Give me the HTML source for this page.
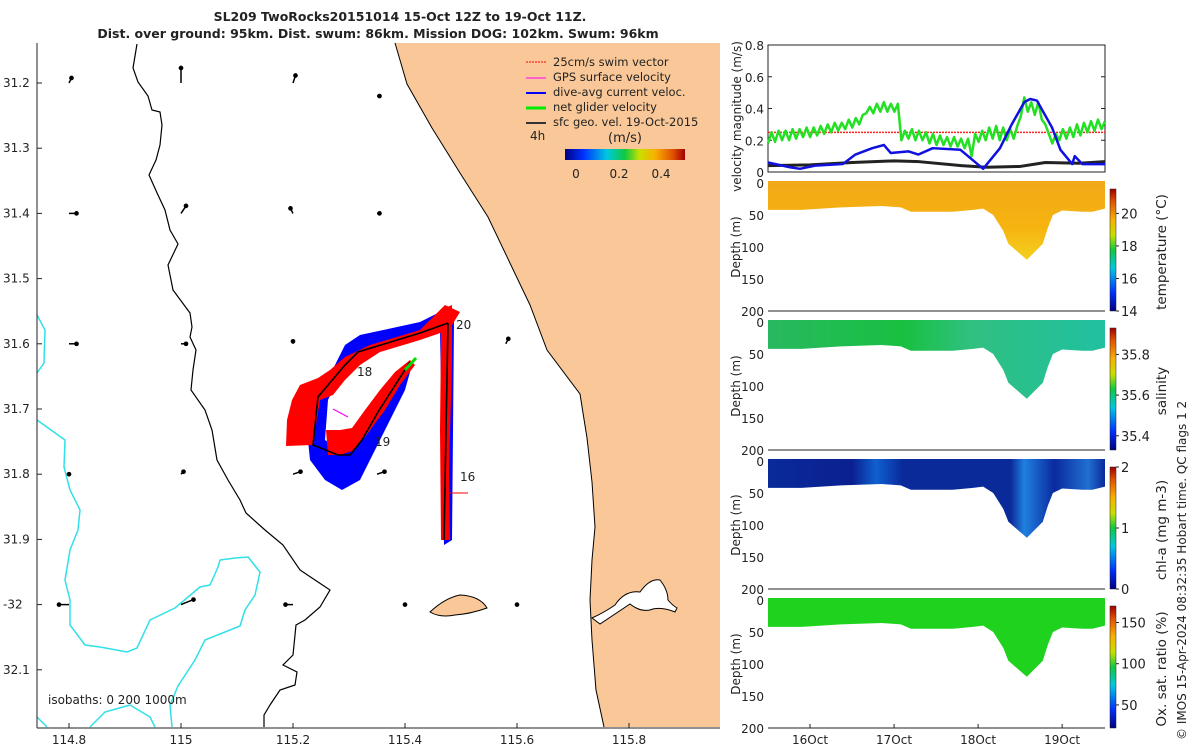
<!DOCTYPE html>
<html><head><meta charset="utf-8"><style>
body{margin:0;background:#fff;font-family:"Liberation Sans","DejaVu Sans",sans-serif}
svg text{font-family:"DejaVu Sans","Liberation Sans",sans-serif;fill:#222}
</style></head><body>
<svg id="fig" width="1200" height="750" viewBox="0 0 1200 750" xmlns="http://www.w3.org/2000/svg">
<defs>
<linearGradient id="jet" x1="0" y1="1" x2="0" y2="0">
<stop offset="0" stop-color="#000080"/><stop offset="0.15" stop-color="#0030ff"/><stop offset="0.35" stop-color="#00c8e0"/><stop offset="0.5" stop-color="#10c840"/><stop offset="0.62" stop-color="#c8e000"/><stop offset="0.75" stop-color="#f8b000"/><stop offset="0.9" stop-color="#e05000"/><stop offset="1" stop-color="#a00000"/>
</linearGradient>
<linearGradient id="jeth" x1="0" y1="0" x2="1" y2="0">
<stop offset="0" stop-color="#000080"/><stop offset="0.15" stop-color="#0030ff"/><stop offset="0.35" stop-color="#00c8e0"/><stop offset="0.5" stop-color="#10c840"/><stop offset="0.62" stop-color="#c8e000"/><stop offset="0.75" stop-color="#f8b000"/><stop offset="0.9" stop-color="#e05000"/><stop offset="1" stop-color="#a00000"/>
</linearGradient>
<linearGradient id="tempg" x1="0" y1="0" x2="0" y2="1"><stop offset="0" stop-color="#f2a818"/><stop offset="0.6" stop-color="#f6b410"/><stop offset="1" stop-color="#f4d020"/></linearGradient>
<linearGradient id="salg" x1="0" y1="0" x2="1" y2="0"><stop offset="0" stop-color="#28b860"/><stop offset="0.4" stop-color="#18c040"/><stop offset="0.6" stop-color="#30c080"/><stop offset="1" stop-color="#20c0a0"/></linearGradient>
<linearGradient id="chlg" x1="0" y1="0" x2="1" y2="0"><stop offset="0" stop-color="#0a2a9a"/><stop offset="0.25" stop-color="#0a2090"/><stop offset="0.32" stop-color="#1060d0"/><stop offset="0.4" stop-color="#0a2a9a"/><stop offset="0.72" stop-color="#0a2a9a"/><stop offset="0.76" stop-color="#2080e0"/><stop offset="0.85" stop-color="#0a2aa0"/><stop offset="0.95" stop-color="#2070d0"/><stop offset="1" stop-color="#0a2a9a"/></linearGradient>
</defs>

<text x="400" y="21" font-size="12.5" font-weight="bold" text-anchor="middle">SL209 TwoRocks20151014 15-Oct 12Z to 19-Oct 11Z.</text>
<text x="378" y="38" font-size="12.5" font-weight="bold" text-anchor="middle">Dist. over ground: 95km. Dist. swum: 86km. Mission DOG: 102km. Swum: 96km</text>

<g id="map">
<polygon fill="#fac898" points="395,43 407,84 432,128 460,173 488,217 530,305 547,350 580,394 587,438 592,482 595,527 592,560 590,600 592,640 596,690 604,727 720,727 720,43"/>
<polyline fill="none" stroke="#000" stroke-width="1" points="395,43 407,84 432,128 460,173 488,217 530,305 547,350 580,394 587,438 592,482 595,527 592,560 590,600 592,640 596,690 604,727"/>
<path d="M592 618 Q605 612 615 605 Q625 590 640 592 Q650 578 660 580 Q668 590 668 600 Q672 605 677 608 L675 612 Q660 606 650 610 Q640 612 630 604 Q618 612 600 624 Z" fill="#fff" stroke="#000" stroke-width="1"/>
<path d="M430 612 Q445 598 460 595 Q480 596 487 608 Q470 614 455 615 Q440 618 430 612Z" fill="#fac898" stroke="#000" stroke-width="1"/>
<polyline fill="none" stroke="#000" stroke-width="1.2" points="137,44 133,68 138,82 148,96 152,110 160,112 162,125 160,145 156,160 149,175 158,195 165,210 170,230 178,244 168,265 173,290 190,313 192,327 190,337 196,350 193,370 191,390 205,410 212,430 217,460 228,480 240,500 246,513 265,530 283,545 300,570 312,578 330,590 320,607 305,620 296,625 293,655 283,665 297,672 295,685 280,690 270,705 264,715 264,727"/>
<g fill="none" stroke="#30e0e8" stroke-width="1.5">
<polyline points="37,315 45,330 44,363 37,373"/>
<polyline points="37,420 65,440 64,467 70,490 80,510 78,530 70,550 65,580 70,600 70,625 85,645 100,647 127,652 137,648 150,620 175,608 200,587 210,585 218,567 220,560 235,558 248,557 260,572 255,595 245,610 240,626 205,640 195,660 178,686 170,705 172,727"/>
<polyline points="37,717 47,727"/><polyline points="90,727 105,712 130,705 150,717 155,727"/>
</g>
<g id="quiver" stroke="#000" stroke-width="1.5" fill="#000"></g>
<polygon fill="#0000ff" points="345,345 360,335 420,322 448,308 454,320 452,540 444,545 440,330 420,335 360,352 340,375 328,400 325,440 340,450 355,450 370,430 390,400 412,365 405,390 390,420 375,450 360,480 342,490 325,480 310,460 308,440 313,400 330,375"/>
<polygon fill="#ff0000" points="445,305 460,312 449,330 420,340 380,352 360,365 345,380 333,395 320,400 316,425 313,445 286,446 287,420 292,400 300,385 318,378 330,370 345,357 370,345 420,330"/>
<polygon fill="#ff0000" points="326,430 340,430 352,428 365,410 380,390 395,372 410,360 415,365 400,385 385,410 370,430 355,450 340,455 328,455"/>
<polygon fill="#ff0000" points="440,310 452,305 452,360 449,470 450,540 441,540 440,430 441,340"/>
<polyline fill="none" stroke="#000" stroke-width="1.6" points="448,323 420,333 358,352 345,365 318,397 313,445 338,455 350,455 362,440 378,412 410,362"/>
<polyline fill="none" stroke="#000" stroke-width="1.6" points="448,323 446,430 444,540"/>
<line x1="405" y1="370" x2="416" y2="358" stroke="#00e000" stroke-width="3"/>
<line x1="333" y1="409" x2="348" y2="417" stroke="#ff00ff" stroke-width="1.2"/>
<line x1="448" y1="493" x2="468" y2="493" stroke="#ff0000" stroke-width="1"/>
<text x="456" y="329" font-size="12">20</text>
<text x="357" y="376" font-size="12">18</text>
<text x="375" y="446" font-size="12">19</text>
<text x="460" y="481" font-size="12">16</text>
<g font-size="11.5">
<line x1="526" y1="62" x2="546" y2="62" stroke="#f00" stroke-dasharray="2 1"/><text x="553" y="66">25cm/s swim vector</text>
<line x1="526" y1="78" x2="546" y2="78" stroke="#f0f"/><text x="553" y="81">GPS surface velocity</text>
<line x1="526" y1="93" x2="546" y2="93" stroke="#00f" stroke-width="2"/><text x="553" y="96">dive-avg current veloc.</text>
<line x1="526" y1="108" x2="546" y2="108" stroke="#0e0" stroke-width="3"/><text x="553" y="111">net glider velocity</text>
<line x1="526" y1="123" x2="546" y2="123" stroke="#333" stroke-width="2"/><text x="553" y="126">sfc geo. vel. 19-Oct-2015</text>
<text x="530" y="140" font-size="12">4h</text>
<text x="625" y="142" font-size="13" text-anchor="middle">(m/s)</text>
<rect x="565" y="149" width="120" height="11" fill="url(#jeth)"/>
<text x="576" y="178" font-size="12" text-anchor="middle">0</text><text x="619" y="178" font-size="12" text-anchor="middle">0.2</text><text x="661" y="178" font-size="12" text-anchor="middle">0.4</text>
</g>
<text x="48" y="704" font-size="12">isobaths: 0   200  1000m</text>
<line x1="37" y1="43" x2="37" y2="728" stroke="#222"/>
<line x1="37" y1="728" x2="720" y2="728" stroke="#222"/>
<g id="mapticks" font-size="12"></g>
</g>

<g id="right"></g>
<text transform="translate(1186,740) rotate(-90)" font-size="12">© IMOS 15-Apr-2024 08:32:35 Hobart time. QC flags 1  2</text>
</svg>
<script>
const NS='http://www.w3.org/2000/svg';
const lonTicks=[114.8,115,115.2,115.4,115.6,115.8];
const latTicks=[31.2,31.3,31.4,31.5,31.6,31.7,31.8,31.9,32,32.1];
const latLabels=['31.2','31.3','31.4','31.5','31.6','31.7','31.8','31.9','-32','32.1'];
const qLon=[114.8,115,115.2,115.35,114.8,115,115.2,115.35,114.8,115,115.2,115.58,114.8,115,115.2,115.35,114.8,115,115.2,115.4,115.6];
const qLat=[31.2,31.2,31.2,31.22,31.4,31.4,31.4,31.4,31.6,31.6,31.6,31.6,31.8,31.8,31.8,31.8,32,32,32,32,32];
const qU=[0.01,0,0.01,0.01,0.03,0.02,-0.01,0.01,0.03,0.02,0,0.01,0,0.01,0.03,0.03,-0.04,0.05,-0.03,0,0];
const qV=[0.02,0.06,0.03,0,0,0.03,0.02,0,0,0,0.01,0.02,0,0.01,0.01,0.01,0,0.02,0,0,0];
function lonX(l){return 181+(l-115)*560}
function latY(l){return 83+(l-31.2)*652}
function mk(tag,attrs,parent){const e=document.createElementNS(NS,tag);for(const k in attrs)e.setAttribute(k,attrs[k]);parent.appendChild(e);return e}
const mt=document.getElementById('mapticks');
lonTicks.forEach((l,i)=>{const x=lonX(l);mk('line',{x1:x,y1:728,x2:x,y2:723,stroke:'#222'},mt);const t=mk('text',{x:x,y:744,'text-anchor':'middle'},mt);t.textContent=String(l);

});
latTicks.forEach((l,i)=>{const y=latY(l);mk('line',{x1:37,y1:y,x2:42,y2:y,stroke:'#222'},mt);const t=mk('text',{x:3,y:y+4},mt);t.textContent=latLabels[i];

});
const qg=document.getElementById('quiver');
qLon.forEach((l,i)=>{const x=lonX(l),y=latY(qLat[i]);const x2=x+qU[i]*250,y2=y-qV[i]*250;
const ln=mk('line',{x1:x,y1:y,x2:x2,y2:y2},qg);


mk('circle',{cx:x2,cy:y2,r:1.6},qg);});

const days=[16,17,18,19];
const dayLabels=['16Oct','17Oct','18Oct','19Oct'];
const tStart=15.5,tEnd=19.51;
const velTicks=[0,0.2,0.4,0.6,0.8];
const velLabels=['0','0.2','0.4','0.6','0.8'];
const greenVel=[0.18,0.25,0.19,0.26,0.2,0.26,0.2,0.27,0.21,0.27,0.22,0.28,0.22,0.28,0.23,0.29,0.24,0.3,0.25,0.31,0.26,0.31,0.27,0.33,0.28,0.34,0.3,0.36,0.37,0.41,0.37,0.43,0.38,0.44,0.38,0.43,0.38,0.43,0.2,0.26,0.21,0.27,0.2,0.26,0.2,0.25,0.18,0.24,0.17,0.23,0.17,0.22,0.16,0.22,0.16,0.21,0.15,0.21,0.1,0.24,0.19,0.26,0.2,0.28,0.21,0.29,0.2,0.28,0.2,0.27,0.21,0.29,0.35,0.47,0.38,0.44,0.36,0.44,0.33,0.3,0.24,0.18,0.24,0.2,0.27,0.21,0.28,0.22,0.3,0.23,0.31,0.25,0.32,0.26,0.33,0.27,0.32];
const blueT=[15.5,15.76,15.88,16.06,16.39,16.54,16.74,16.88,16.96,17.17,17.29,17.46,17.79,18.06,18.26,18.4,18.55,18.62,18.7,18.88,18.98,19.12,19.15,19.24,19.51];
const blueV=[0.06,0.03,0.02,0.04,0.05,0.11,0.15,0.17,0.12,0.13,0.11,0.15,0.14,0.02,0.15,0.3,0.44,0.46,0.45,0.28,0.14,0.05,0.1,0.05,0.05];
const blackT=[15.5,16.0,16.5,17.0,17.3,17.8,18.1,18.5,18.8,19.2,19.51];
const blackV=[0.04,0.045,0.06,0.07,0.065,0.04,0.03,0.035,0.06,0.055,0.065];
const swimRef=[0.25];
const secT=[15.5,15.9,16.37,16.85,17.08,17.2,17.7,17.94,18.06,18.18,18.3,18.36,18.58,18.77,18.83,18.89,19.0,19.24,19.36,19.51];
const secD=[42,42,38,36,38,45,45,42,40,50,75,95,120,95,70,50,43,45,45,40];
const panels=[
 {y0:183,fill:'url(#tempg)',cbTicks:[14,16,18,20],cbMin:14,cbMax:21.5,label:'temperature (°C)',name:'temperature'},
 {y0:322,fill:'url(#salg)',cbTicks:[35.4,35.6,35.8],cbMin:35.33,cbMax:35.93,label:'salinity',name:'salinity'},
 {y0:461,fill:'url(#chlg)',cbTicks:[0,1,2],cbMin:0,cbMax:2,label:'chl-a (mg m-3)',name:'chlorophyll'},
 {y0:600,fill:'#1ed21e',cbTicks:[50,100,150],cbMin:22,cbMax:170,label:'Ox. sat. ratio (%)',name:'oxygen'}];
const depthTicks=[0,50,100,150,200];
const R=document.getElementById('right');
const X0=768,X1=1105;
function tx(t){return X0+(t-tStart)/(tEnd-tStart)*(X1-X0)}
const vy0=172,vy1=45;
function vy(v){return vy0-(v/0.8)*(vy0-vy1)}
const vg=mk('g',{},R);
mk('rect',{x:X0,y:vy1,width:X1-X0,height:vy0-vy1,fill:'none',stroke:'#222'},vg);
velTicks.forEach((v,i)=>{const y=vy(v);mk('line',{x1:X0,y1:y,x2:X0+4,y2:y,stroke:'#222'},vg);mk('line',{x1:X1,y1:y,x2:X1-4,y2:y,stroke:'#222'},vg);const t=mk('text',{x:X0-4,y:y+5,'font-size':12,'text-anchor':'end'},vg);t.textContent=velLabels[i];

});
const yt=mk('text',{transform:`translate(741,${(vy0+vy1)/2+8}) rotate(-90)`,'font-size':12,'text-anchor':'middle'},vg);yt.textContent='velocity magnitude (m/s)';


const sl=mk('line',{x1:X0,y1:vy(swimRef[0]),x2:X1,y2:vy(swimRef[0]),stroke:'#ff2020','stroke-width':1.5,'stroke-dasharray':'2 1'},vg);


function line(ts,vs,col,w,name){const p=mk('polyline',{points:ts.map((t,i)=>tx(t)+','+vy(vs[i])).join(' '),fill:'none',stroke:col,'stroke-width':w,'stroke-linejoin':'round'},vg);

}
line(blackT,blackV,'#222',3,'sfc-geo-velocity-line');
line(greenVel.map((v,i)=>tStart+i*(tEnd-tStart)/(greenVel.length-1)),greenVel,'#22e022',2.5,'net-glider-velocity-line');
line(blueT,blueV,'#1010e0',2.5,'current-velocity-line');
panels.forEach((p,pi)=>{
 const g=mk('g',{},R);
 
 
 const y0=p.y0,h=128;const dy=d=>y0+d/200*h;
 const pts=secT.map((t,i)=>tx(t)+','+dy(secD[i]));
 const poly=mk('polygon',{points:tx(secT[0])+','+(y0-2)+' '+pts.join(' ')+' '+tx(secT[secT.length-1])+','+(y0-2),fill:p.fill},g);
 
 
 mk('line',{x1:X0,y1:y0+h,x2:X1,y2:y0+h,stroke:'#222'},g);
 depthTicks.forEach(d=>{const t=mk('text',{x:X0-4,y:dy(d)+5,'font-size':12,'text-anchor':'end'},g);t.textContent=d;
 
 });
 const at=mk('text',{transform:`translate(740,${y0+h/2}) rotate(-90)`,'font-size':12,'text-anchor':'middle'},g);at.textContent='Depth (m)';
 
 
 const cy1=y0+6,cy0=y0+h;
 const cb=mk('rect',{x:1110,y:cy1,width:6,height:cy0-cy1,fill:'url(#jet)',stroke:'#222','stroke-width':0.5},g);
 
 
 p.cbTicks.forEach(v=>{const y=cy0-(v-p.cbMin)/(p.cbMax-p.cbMin)*(cy0-cy1);mk('line',{x1:1116,y1:y,x2:1119,y2:y,stroke:'#222'},g);const t=mk('text',{x:1121,y:y+5,'font-size':13},g);t.textContent=v;
 
 });
 const lt=mk('text',{transform:`translate(1166,${y0+h/2+5}) rotate(-90)`,'font-size':13.5,'text-anchor':'middle'},g);lt.textContent=p.label;
 
 
});
const xg=mk('g',{},R);
days.forEach((d,i)=>{const x=tx(d);mk('line',{x1:x,y1:728,x2:x,y2:724,stroke:'#222'},xg);const t=mk('text',{x:x,y:744,'font-size':12,'text-anchor':'middle'},xg);t.textContent=dayLabels[i];

});
</script>
</body></html>
